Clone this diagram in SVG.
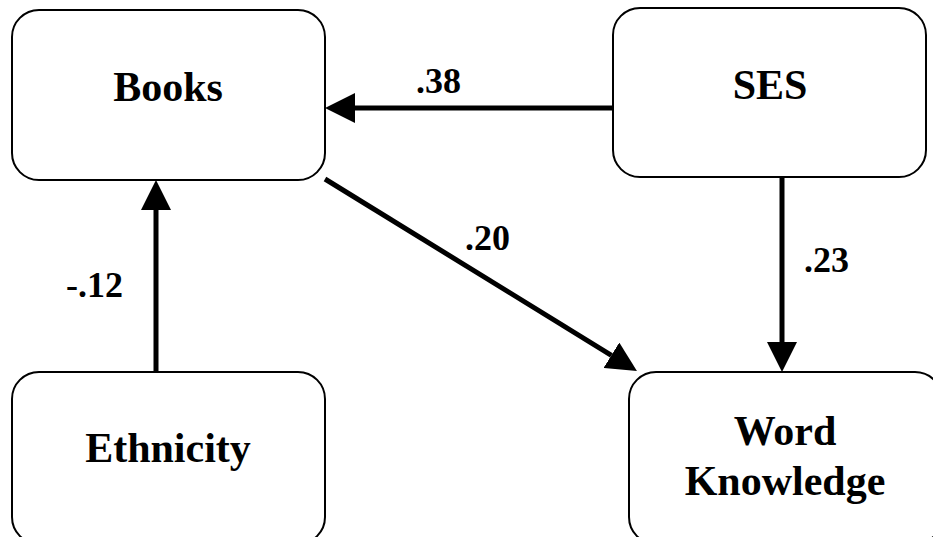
<svg xmlns="http://www.w3.org/2000/svg" width="933" height="537" viewBox="0 0 933 537">
  <style>
    .box { fill: #fff; stroke: #000; stroke-width: 2; }
    .node { font-family: 'Times New Roman', 'Liberation Serif', Tinos, Times, serif; font-weight: bold; font-size: 42px; text-anchor: middle; fill: #000; }
    .lbl { font-family: 'Times New Roman', 'Liberation Serif', Tinos, Times, serif; font-weight: bold; font-size: 36px; fill: #000; }
    .edge { stroke: #000; stroke-width: 5; fill: none; marker-end: url(#ah); }
  </style>
  <defs>
    <marker id="ah" viewBox="0 0 30 30" refX="0" refY="15" markerWidth="30" markerHeight="30" markerUnits="userSpaceOnUse" orient="auto">
      <path d="M0,0 L30,15 L0,30 Z" fill="#000"/>
    </marker>
  </defs>
  <rect width="933" height="537" fill="#fff"/>
  <g id="connectors">
    <line class="edge" x1="613" y1="108" x2="355" y2="108"/>
    <line class="edge" x1="156" y1="372" x2="156" y2="210"/>
    <line class="edge" x1="782" y1="177" x2="782" y2="342"/>
    <line class="edge" x1="325" y1="179" x2="611.4" y2="355.3"/>
    <text class="lbl" x="416" y="93">.38</text>
    <text class="lbl" x="465" y="250">.20</text>
    <text class="lbl" x="804" y="272">.23</text>
    <text class="lbl" x="66" y="297">-.12</text>
  </g>
  <g id="books">
    <rect class="box" x="12" y="10" width="313" height="170" rx="27" ry="27"/>
    <text class="node" x="168" y="101">Books</text>
  </g>
  <g id="ses">
    <rect class="box" x="613" y="8" width="313" height="169" rx="27" ry="27"/>
    <text class="node" x="770" y="99">SES</text>
  </g>
  <g id="ethnicity">
    <rect class="box" x="12" y="372" width="313" height="172" rx="27" ry="27"/>
    <text class="node" x="168" y="462">Ethnicity</text>
  </g>
  <g id="word-knowledge">
    <rect class="box" x="629" y="372" width="313" height="172" rx="27" ry="27"/>
    <text class="node" x="785" y="445">Word</text>
    <text class="node" x="785" y="495">Knowledge</text>
  </g>
</svg>
